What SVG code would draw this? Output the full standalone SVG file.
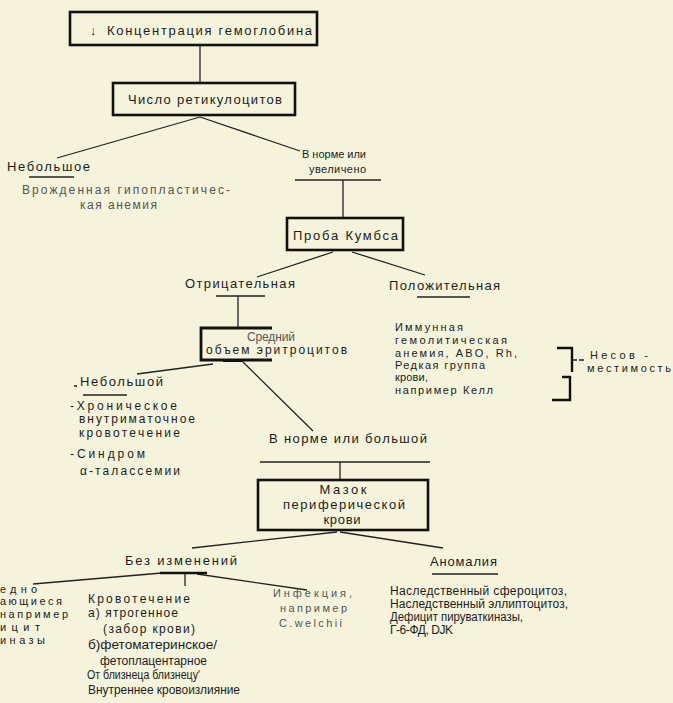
<svg xmlns="http://www.w3.org/2000/svg" width="673" height="703" viewBox="0 0 673 703">
<style>
text{font-family:"Liberation Sans",Arial,"DejaVu Sans",sans-serif;font-size:13px;fill:#1c1c1c}
.m{font-size:12px}
.s{font-size:11px}
.g{fill:#555}
.box{fill:none;stroke:#111;stroke-width:2.6}
.ln{fill:none;stroke:#222;stroke-width:1.3}
.ul{fill:none;stroke:#222;stroke-width:1.6}
.tk{fill:none;stroke:#111;stroke-width:2.4}
</style>
<rect x="0" y="0" width="673" height="703" fill="#f5f3dc"/>

<g id="connectors">
<line class="ln" x1="200" y1="45" x2="200" y2="83"/>
<line class="ln" x1="200" y1="117" x2="57" y2="158"/>
<line class="ln" x1="200" y1="117" x2="300" y2="151"/>
<line class="ln" x1="295" y1="180" x2="381" y2="180"/>
<line class="ln" x1="343" y1="180" x2="343" y2="218"/>
<line class="ln" x1="333" y1="252" x2="257" y2="277"/>
<line class="ln" x1="352" y1="252" x2="425" y2="275"/>
<line class="ln" x1="238" y1="296" x2="238" y2="328"/>
<line class="ln" x1="213" y1="364" x2="137" y2="374"/>
<line class="ln" x1="243" y1="362" x2="313" y2="431"/>
<line class="ln" x1="260" y1="462" x2="430" y2="462"/>
<line class="ln" x1="340" y1="462" x2="340" y2="480"/>
<line class="ln" x1="337" y1="532" x2="192" y2="548"/>
<line class="ln" x1="340" y1="532" x2="443" y2="548"/>
<line class="ln" x1="33" y1="584" x2="162" y2="573"/>
<line class="ln" x1="197" y1="574" x2="307" y2="590"/>
<line class="ln" x1="185" y1="573" x2="185" y2="586"/>
</g>

<g id="n-hb">
<rect class="box" x="70" y="12" width="247" height="33"/>
<text x="90" y="35" font-weight="bold">↓</text>
<text x="107" y="35" textLength="205" lengthAdjust="spacing">Концентрация гемоглобина</text>
</g>

<g id="n-retic">
<rect class="box" x="113" y="83" width="182" height="32"/>
<text x="128" y="104" textLength="154" lengthAdjust="spacing">Число ретикулоцитов</text>
</g>

<g id="n-small1">
<text x="7" y="171" textLength="83" lengthAdjust="spacing">Небольшое</text>
<line class="ul" x1="29" y1="177" x2="74" y2="177"/>
<text class="m g" x="22" y="194" textLength="208" lengthAdjust="spacing">Врожденная гипопластичес-</text>
<text class="m g" x="80" y="209" textLength="77" lengthAdjust="spacing">кая анемия</text>
</g>

<g id="n-normal1">
<text class="s" x="302" y="158" textLength="64" lengthAdjust="spacing">В норме или</text>
<text class="s" x="309" y="173" textLength="57" lengthAdjust="spacing">увеличено</text>
</g>

<g id="n-coombs">
<rect class="box" x="287" y="218" width="116" height="32"/>
<text x="293" y="240" textLength="105" lengthAdjust="spacing">Проба Кумбса</text>
</g>

<g id="n-neg">
<text x="185" y="288" textLength="110" lengthAdjust="spacing">Отрицательная</text>
<line class="ul" x1="216" y1="296" x2="265" y2="296"/>
</g>

<g id="n-pos">
<text x="389" y="290" textLength="111" lengthAdjust="spacing">Положительная</text>
<line class="ul" x1="417" y1="297" x2="470" y2="297"/>
<text class="s" x="395" y="331" textLength="68" lengthAdjust="spacing">Иммунная</text>
<text class="s" x="395" y="344" textLength="112" lengthAdjust="spacing">гемолитическая</text>
<text class="s" x="395" y="357" textLength="122" lengthAdjust="spacing">анемия, ABO, Rh,</text>
<text class="s" x="395" y="369" textLength="90" lengthAdjust="spacing">Редкая группа</text>
<text class="s" x="395" y="381" textLength="33" lengthAdjust="spacing">крови,</text>
<text class="s" x="395" y="394" textLength="98" lengthAdjust="spacing">например Келл</text>
<path class="tk" d="M557,348 H572 V372"/>
<path class="tk" d="M562,377 H570 V400 H552"/>
<line class="ln" x1="572" y1="360" x2="586" y2="360" stroke-dasharray="5,2"/>
<text class="s" x="590" y="359" textLength="58" lengthAdjust="spacing">Несов -</text>
<text class="s" x="587" y="372" textLength="84" lengthAdjust="spacing">местимость</text>
</g>

<g id="n-mcv">
<path d="M272,328 H201 V360 H272" fill="none" stroke="#111" stroke-width="2.8"/>
<line x1="223" y1="361" x2="243" y2="361" stroke="#111" stroke-width="2"/>
<text class="m g" x="247" y="341" textLength="48" lengthAdjust="spacing">Средний</text>
<text class="m" x="206" y="354" textLength="141" lengthAdjust="spacing">объем эритроцитов</text>
</g>

<g id="n-small2">
<line x1="74" y1="386" x2="77" y2="386" stroke="#222" stroke-width="1.6"/>
<text x="80" y="386" textLength="83" lengthAdjust="spacing">Небольшой</text>
<line class="ul" x1="83" y1="395" x2="127" y2="395"/>
<text class="m" x="70" y="410" textLength="107" lengthAdjust="spacing">-Хроническое</text>
<text class="m" x="79" y="423" textLength="116" lengthAdjust="spacing">внутриматочное</text>
<text class="m" x="79" y="437" textLength="101" lengthAdjust="spacing">кровотечение</text>
<text class="m" x="70" y="458" textLength="75" lengthAdjust="spacing">-Синдром</text>
<text class="m" x="80" y="475" textLength="100" lengthAdjust="spacing">α-талассемии</text>
</g>

<g id="n-normal2">
<text x="269" y="443" textLength="158" lengthAdjust="spacing">В норме или большой</text>
</g>

<g id="n-smear">
<rect class="box" x="258" y="480" width="170" height="50"/>
<text x="343" y="494" text-anchor="middle" textLength="47" lengthAdjust="spacing">Мазок</text>
<text x="344" y="509" text-anchor="middle" textLength="122" lengthAdjust="spacing">периферической</text>
<text x="342" y="524" text-anchor="middle" textLength="37" lengthAdjust="spacing">крови</text>
</g>

<g id="n-nochange">
<text x="125" y="565" textLength="112" lengthAdjust="spacing">Без изменений</text>
<line x1="160" y1="573" x2="207" y2="573" stroke="#111" stroke-width="2.4"/>
</g>

<g id="n-anom">
<text x="430" y="566" textLength="67" lengthAdjust="spacing">Аномалия</text>
<line class="ul" x1="432" y1="574" x2="498" y2="574"/>
<text class="m" x="390" y="595" textLength="177" lengthAdjust="spacing">Наследственный сфероцитоз,</text>
<text class="m" x="390" y="608" textLength="178" lengthAdjust="spacing">Наследственный эллиптоцитоз,</text>
<text class="m" x="390" y="621" textLength="133" lengthAdjust="spacingAndGlyphs">Дефицит пируваткиназы,</text>
<text class="m" x="390" y="634" textLength="63" lengthAdjust="spacing">Г-6-ФД, DJK</text>
</g>

<g id="n-hered">
<text class="s" x="0" y="593" textLength="37" lengthAdjust="spacing">едно</text>
<text class="s" x="0" y="605" textLength="62" lengthAdjust="spacing">ающиеся</text>
<text class="s" x="0" y="618" textLength="68" lengthAdjust="spacing">например</text>
<text class="s" x="0" y="631" textLength="40" lengthAdjust="spacing">ицит</text>
<text class="s" x="0" y="644" textLength="45" lengthAdjust="spacing">иназы</text>
</g>

<g id="n-bleed">
<text class="m" x="88" y="603" textLength="102" lengthAdjust="spacing">Кровотечение</text>
<text class="m" x="88" y="617" textLength="90" lengthAdjust="spacing">а) ятрогенное</text>
<text class="m" x="103" y="633" textLength="92" lengthAdjust="spacing">(забор крови)</text>
<text class="m" x="88" y="649" textLength="129" lengthAdjust="spacingAndGlyphs">б)фетоматеринское/</text>
<text class="m" x="100" y="665" textLength="107" lengthAdjust="spacingAndGlyphs">фетоплацентарное</text>
<text class="m" x="87" y="679" textLength="113" lengthAdjust="spacingAndGlyphs">От близнеца близнецу'</text>
<text class="m" x="88" y="694" textLength="152" lengthAdjust="spacingAndGlyphs">Внутреннее кровоизлияние</text>
</g>

<g id="n-infect">
<text class="s g" x="273" y="597" textLength="79" lengthAdjust="spacing">Инфекция,</text>
<text class="s g" x="280" y="612" textLength="67" lengthAdjust="spacing">например</text>
<text class="s g" x="279" y="627" textLength="63" lengthAdjust="spacing">C.welchii</text>
</g>
</svg>
